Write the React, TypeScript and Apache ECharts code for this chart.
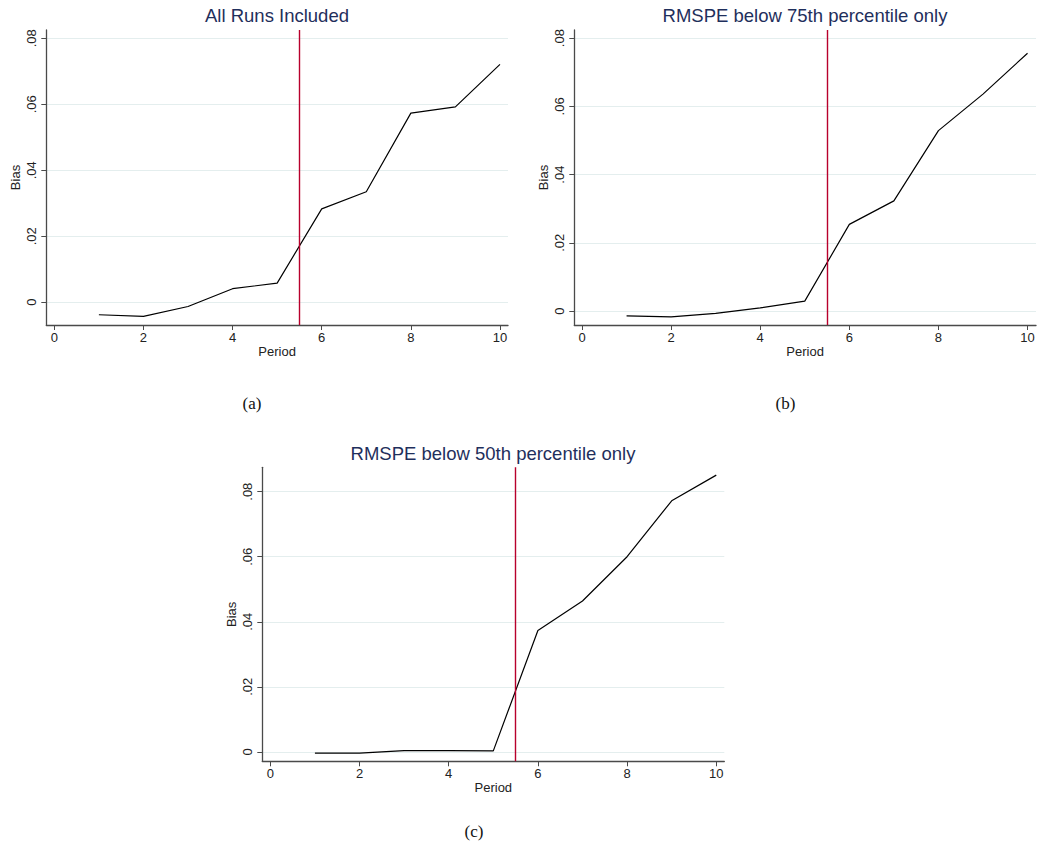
import React, { useEffect, useRef } from "react";
import * as echarts from "echarts";

// ---- Data ----
const periods = [1, 2, 3, 4, 5, 6, 7, 8, 9, 10];
const biasAllRuns = [-0.0038, -0.0043, -0.0013, 0.0041, 0.0058, 0.0283, 0.0335, 0.0573, 0.0592, 0.0721];
const biasBelow75 = [-0.0014, -0.0017, -0.0007, 0.0009, 0.0029, 0.0254, 0.0323, 0.0529, 0.0636, 0.0756];
const biasBelow50 = [-0.0004, -0.0004, 0.0004, 0.0004, 0.0003, 0.0373, 0.0464, 0.06, 0.0772, 0.0851];
const xTicks = [0, 2, 4, 6, 8, 10];
const yTicks = [0, 0.02, 0.04, 0.06, 0.08];
const treatmentLine = 5.5;
const panelTitles = ["All Runs Included", "RMSPE below 75th percentile only", "RMSPE below 50th percentile only"];
const panelCaptions = ["(a)", "(b)", "(c)"];
const panelSeries = [biasAllRuns, biasBelow75, biasBelow50];

// ---- Layout (positions / ranges) ----
const layout = [
  { left: 46.3, top: 30, width: 461.7, height: 295, xMin: -0.18, xMax: 10.18, yMin: -0.0069, yMax: 0.0825, tx: 277, ty: 15, cx: 252, cy: 403 },
  { left: 574.3, top: 30, width: 461.7, height: 295, xMin: -0.173, xMax: 10.19, yMin: -0.0041, yMax: 0.0824, tx: 805, ty: 15, cx: 785.5, cy: 403 },
  { left: 262.3, top: 467.3, width: 462, height: 294, xMin: -0.18, xMax: 10.18, yMin: -0.0029, yMax: 0.0875, tx: 493, ty: 453.3, cx: 474, cy: 831.7 },
];

const TITLE_COLOR = "#1f2f5c";
const LINE_RED = "#b8002c";
const AXIS_COLOR = "#4a4a4a";
const GRID_COLOR = "#e4eeee";
const TEXT_COLOR = "#222";
const SANS = "'Liberation Sans', Arial, Helvetica, sans-serif";

const fmtY = (v: number) => (v === 0 ? "0" : String(v).replace(/^0/, "").replace(/^-0/, "-"));

export default function App() {
  const ref = useRef<HTMLDivElement>(null);

  useEffect(() => {
    if (!ref.current) return;
    const chart = echarts.init(ref.current, undefined, { renderer: "svg" });

    const grids = layout.map((l) => ({ left: l.left, top: l.top, width: l.width, height: l.height, containLabel: false }));

    const xAxes = layout.map((l, i) => ({
      type: "value",
      gridIndex: i,
      min: l.xMin,
      max: l.xMax,
      name: "Period",
      nameLocation: "middle",
      nameGap: 20,
      nameTextStyle: { fontFamily: SANS, fontSize: 13, color: TEXT_COLOR },
      axisLine: { show: true, onZero: false, lineStyle: { color: AXIS_COLOR, width: 1.3 } },
      axisTick: { show: true, length: 5, customValues: xTicks, lineStyle: { color: AXIS_COLOR, width: 1 } },
      axisLabel: { customValues: xTicks, margin: 6, fontFamily: SANS, fontSize: 13, color: TEXT_COLOR },
      splitLine: { show: false },
    }));

    const yAxes = layout.map((l, i) => ({
      type: "value",
      gridIndex: i,
      min: l.yMin,
      max: l.yMax,
      name: "Bias",
      nameLocation: "middle",
      nameRotate: 90,
      nameGap: 24,
      nameTextStyle: { fontFamily: SANS, fontSize: 13, color: TEXT_COLOR },
      axisLine: { show: true, onZero: false, lineStyle: { color: AXIS_COLOR, width: 1.3 } },
      axisTick: { show: true, length: 5, customValues: yTicks, lineStyle: { color: AXIS_COLOR, width: 1 } },
      axisLabel: { customValues: yTicks, rotate: 90, margin: 8, fontFamily: SANS, fontSize: 13, color: TEXT_COLOR, formatter: fmtY },
      splitLine: { show: true, lineStyle: { color: GRID_COLOR, width: 1 } },
    }));

    const series = panelSeries.map((vals, i) => ({
      type: "line",
      xAxisIndex: i,
      yAxisIndex: i,
      symbol: "none",
      data: periods.map((p, k) => [p, vals[k]]),
      lineStyle: { color: "#000", width: 1.2 },
      markLine: {
        silent: true,
        symbol: "none",
        label: { show: false },
        lineStyle: { color: LINE_RED, width: 1.4, type: "solid" },
        data: [{ xAxis: treatmentLine }],
      },
    }));

    const graphics: any[] = [];
    layout.forEach((l, i) => {
      graphics.push({
        type: "text",
        x: l.tx,
        y: l.ty,
        style: { text: panelTitles[i], fontFamily: SANS, fontSize: 18.5, fill: TITLE_COLOR, textAlign: "center", textVerticalAlign: "middle" },
      });
      graphics.push({
        type: "text",
        x: l.cx,
        y: l.cy,
        style: { text: panelCaptions[i], fontFamily: "'Liberation Serif', 'DejaVu Serif', serif", fontSize: 17, fill: "#111", textAlign: "center", textVerticalAlign: "middle" },
      });
    });

    chart.setOption({
      animation: false,
      backgroundColor: "#fff",
      grid: grids,
      xAxis: xAxes,
      yAxis: yAxes,
      series,
      graphic: graphics,
    });

    return () => chart.dispose();
  }, []);

  return <div ref={ref} style={{ position: "absolute", left: 0, top: 0, width: 1040, height: 852 }} />;
}
